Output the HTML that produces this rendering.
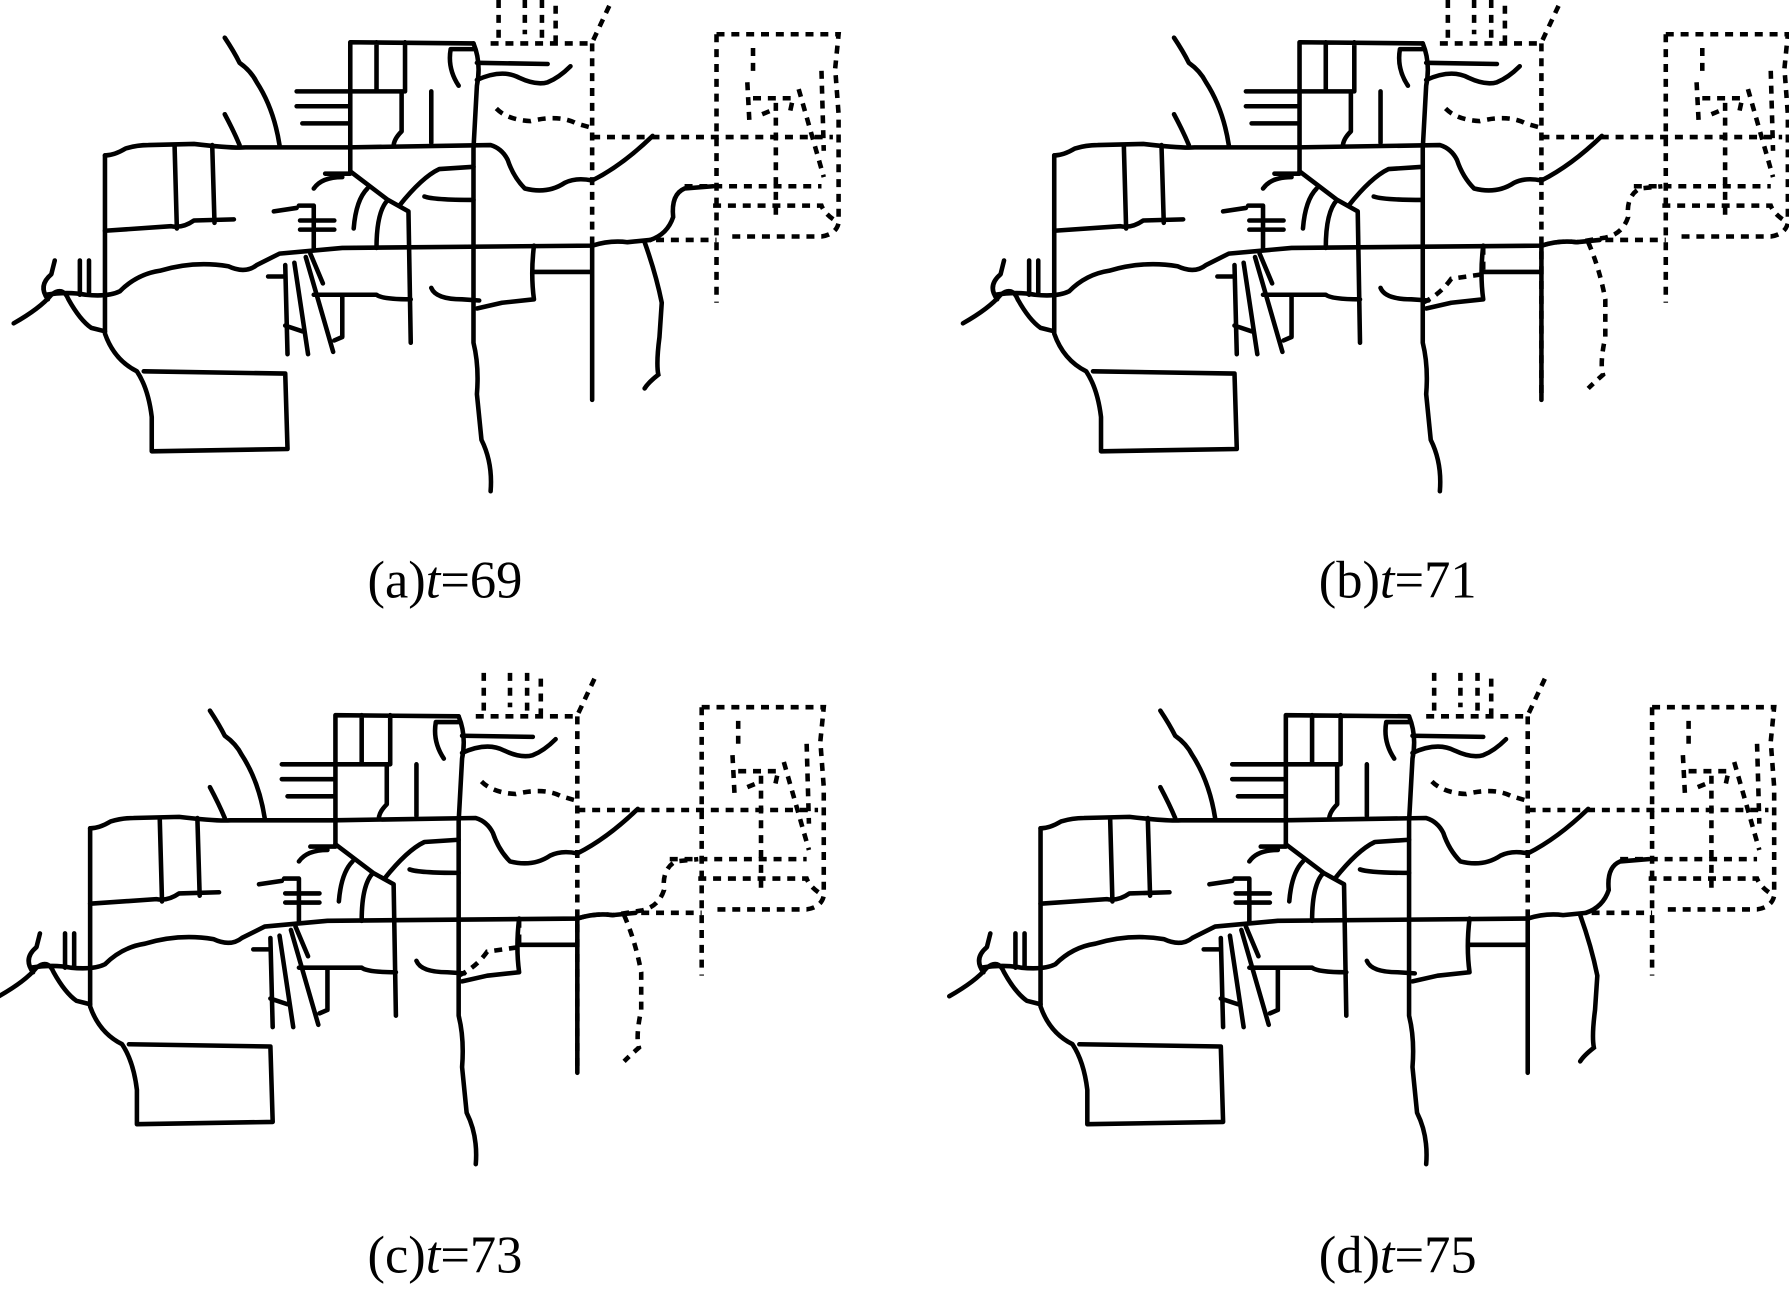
<!DOCTYPE html>
<html><head><meta charset="utf-8"><style>
html,body{margin:0;padding:0;background:#fff;}
svg{display:block;}
text{font-family:"Liberation Serif",serif;font-size:46px;fill:#000;}
</style></head><body>
<svg width="1789" height="1291" viewBox="0 0 1568 1130" preserveAspectRatio="none" xmlns="http://www.w3.org/2000/svg">
<defs>
<g id="base" fill="none" stroke="#000" stroke-width="4" stroke-linecap="round" stroke-linejoin="round">
<path d="M92,136 L92,292 Q100,315 120,325 Q130,340 133,365 L133,395 L252,393 L250,327 L126,325"/>
<path d="M92,136 Q100,136 110,130 Q120,127 130,127 L170,126 Q205,130 215,129 L305,129 L430,127 Q440,130 445,140 Q450,155 460,165 Q480,170 495,160 Q505,155 519,158 Q545,145 572,119"/>
<path d="M153,127 L155,200 M186,127 L188,195"/>
<path d="M92,202 L150,198 Q160,200 170,193 L205,192"/>
<path d="M40,258 Q60,255 75,258 Q95,260 105,255 Q120,240 140,237 Q170,228 200,233 Q215,240 225,232 L245,222 L300,217 L519,215 Q535,210 550,212 L570,210"/>
<path d="M12,283 Q35,270 45,258 Q55,250 60,262 Q70,280 80,287 L92,290 M42,262 Q33,250 45,240 L48,228 M70,228 L70,258 M78,228 L78,258"/>
<path d="M307,37 L307,150 M330,37 L330,80 L355,80 L355,37 M307,37 L415,38 M307,80 L355,80"/>
<path d="M415,38 Q422,55 418,75 L415,130 L415,300 Q420,320 418,345 L422,385 Q432,405 430,430"/>
<path d="M260,80 L305,80 M260,93 L305,93 M265,108 L305,108"/>
<path d="M197,33 Q205,45 210,55 Q220,62 225,72 Q240,95 245,127 M197,100 Q205,115 210,127"/>
<path d="M395,43 L415,43 M395,43 Q392,60 402,75 M378,80 L378,125 M352,82 L352,115 Q345,122 345,128 M418,55 L480,56 M418,70 Q440,60 455,68 Q470,75 480,72 Q490,68 500,58"/>
<path d="M307,150 L340,175 L358,185 L360,300 M350,180 Q370,155 385,148 L415,146 M310,200 Q312,175 322,165 M330,217 Q330,185 340,175 M372,172 Q380,175 415,175"/>
<path d="M285,152 L307,152 M275,165 Q282,155 300,155 M240,185 L260,182 M262,180 L275,180 L275,218 M263,193 L293,193 M263,201 L293,201"/>
<path d="M250,232 L252,310 M250,285 L265,290 M258,230 L270,310 M268,225 L292,308 M272,222 L283,248 M275,258 L330,258 Q335,262 360,262 M300,258 L300,295 L293,298 M235,242 L250,242"/>
<path d="M378,252 Q382,262 405,262 L420,263 M468,215 Q465,240 468,262 L440,265 L418,270 M468,238 L519,238 M519,215 L519,350"/>
</g>
<g id="rightA" fill="none" stroke="#000" stroke-width="4" stroke-linecap="round">
<path d="M570,210 Q585,205 590,190 Q588,170 600,165 L625,163"/>
<path d="M565,212 Q575,240 580,265 L578,295 Q575,318 577,328 Q568,335 565,340"/>
<g stroke-dasharray="7,6" stroke-linecap="butt">
<path d="M519,38 L519,215"/>
</g>
</g>
<g id="rightB" fill="none" stroke="#000" stroke-width="4" stroke-linecap="butt" stroke-dasharray="7,6">
<path d="M519,38 L519,345"/>
<path d="M519,215 Q535,210 550,212 L575,208 Q590,205 595,190 Q593,172 605,165 L625,163"/>
<path d="M560,212 Q570,235 575,262 L575,295 Q570,318 573,328 Q565,335 560,340"/>
<path d="M468,216 L468,240 L440,244 Q430,258 415,265"/>
</g>
<g id="dash" fill="none" stroke="#000" stroke-width="4" stroke-linecap="butt" stroke-dasharray="7,6">
<path d="M437,0 L437,36 M460,0 L460,30 M475,0 L475,36 M487,5 L487,36 M430,38 L520,38 M520,35 L535,3"/>
<path d="M435,95 Q445,105 465,106 Q490,100 505,108 L519,112"/>
<path d="M519,120 L625,120 L730,120"/>
<path d="M628,30 L735,30 L732,60 L735,100 L735,195 Q733,205 720,207 L640,207 M628,30 L628,265"/>
<path d="M660,42 L660,62 M655,72 L657,110 M660,86 L695,86 L692,100 M680,90 L680,188 M700,78 L722,155 M720,62 L722,132 M668,100 L680,95"/>
<path d="M600,163 L720,163 M625,180 L720,180 Q723,188 735,195 M575,210 L628,210"/>
</g>
</defs>
<use href="#base"/><use href="#rightA"/><use href="#dash"/>
<g transform="translate(832,0)"><use href="#base"/><use href="#rightB"/><use href="#dash"/></g>
<g transform="translate(-13,589)"><use href="#base"/><use href="#rightB"/><use href="#dash"/></g>
<g transform="translate(820,589)"><use href="#base"/><use href="#rightA"/><use href="#dash"/></g>
<text x="390" y="523" text-anchor="middle">(a)<tspan font-style="italic">t</tspan>=69</text>
<text x="1225" y="523" text-anchor="middle">(b)<tspan font-style="italic">t</tspan>=71</text>
<text x="390" y="1114" text-anchor="middle">(c)<tspan font-style="italic">t</tspan>=73</text>
<text x="1225" y="1114" text-anchor="middle">(d)<tspan font-style="italic">t</tspan>=75</text>
</svg>
</body></html>
